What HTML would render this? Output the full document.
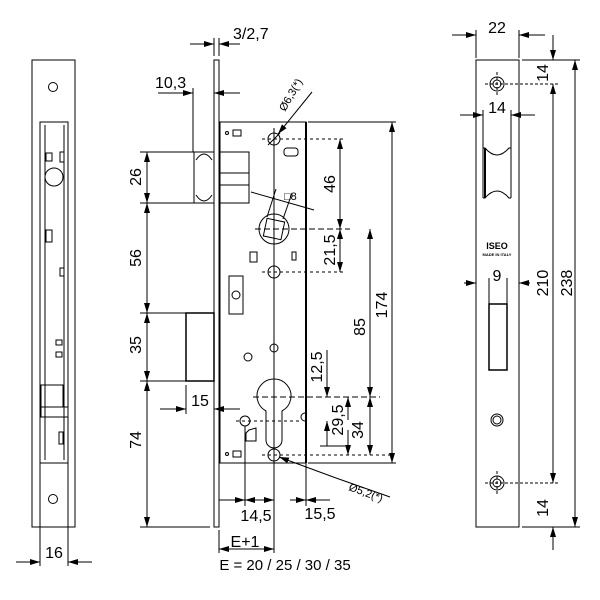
<!DOCTYPE html>
<html><head><style>body{margin:0;background:#fff}svg{display:block}text{font-family:"Liberation Sans",sans-serif;fill:#000}</style></head><body>
<svg width="600" height="600" viewBox="0 0 600 600" xmlns="http://www.w3.org/2000/svg">
<defs>
<marker id="a" viewBox="0 0 10 6" refX="10" refY="3" markerWidth="10" markerHeight="6" orient="auto-start-reverse" markerUnits="userSpaceOnUse"><path d="M0,0L10,3L0,6z"/></marker>
</defs>
<g fill="none" stroke="#000" stroke-width="1">
<rect x="32" y="60" width="43" height="467"/>
<circle cx="53" cy="87" r="4.5"/><circle cx="53" cy="499" r="4.5"/>
<rect x="40" y="122" width="28" height="341"/>
<line x1="40" y1="463" x2="40" y2="566"/><line x1="68" y1="463" x2="68" y2="566"/>
<line x1="45" y1="125" x2="45" y2="460"/><line x1="64" y1="125" x2="64" y2="460"/>
<circle cx="54" cy="177" r="9"/><rect x="46" y="153" width="6" height="8"/>
<rect x="46" y="230" width="6" height="12"/><rect x="60" y="152" width="4" height="10"/>
<rect x="60" y="268" width="4" height="8"/><rect x="56" y="340" width="6" height="5"/><rect x="56" y="352" width="6" height="5"/>
<rect x="41" y="385" width="22" height="22"/><rect x="41" y="407" width="27" height="10"/>
<rect x="59" y="432" width="4" height="12"/>
<line x1="16" y1="562" x2="40" y2="562" marker-end="url(#a)"/><line x1="92" y1="562" x2="68" y2="562" marker-end="url(#a)"/>
<rect x="214" y="60" width="5" height="467"/>
<line x1="214" y1="38" x2="214" y2="56"/><line x1="219" y1="38" x2="219" y2="56"/>
<line x1="190" y1="44" x2="214" y2="44" marker-end="url(#a)"/><line x1="240" y1="44" x2="219" y2="44" marker-end="url(#a)"/>
<line x1="193" y1="88" x2="193" y2="152"/>
<line x1="158" y1="93" x2="193" y2="93" marker-end="url(#a)"/><line x1="240" y1="93" x2="214" y2="93" marker-end="url(#a)"/>
<rect x="194" y="152" width="20" height="51"/>
<path d="M196,160 Q204,148 212,160 M196,195 Q204,207 212,195"/>
<rect x="220" y="152" width="29" height="51"/><line x1="220" y1="173" x2="249" y2="173"/><line x1="220" y1="185" x2="249" y2="185"/>
<rect x="220" y="122" width="86" height="341"/><line x1="306" y1="122" x2="306" y2="463" stroke-width="2"/>
<rect x="186" y="313" width="28" height="68" stroke-width="1.5"/>
<line x1="147" y1="152" x2="147" y2="527"/>
<line x1="140" y1="152" x2="194" y2="152"/><line x1="140" y1="203" x2="194" y2="203"/>
<line x1="140" y1="313" x2="186" y2="313"/><line x1="140" y1="381" x2="186" y2="381"/>
<line x1="140" y1="527" x2="210" y2="527"/>
<line x1="147" y1="185" x2="147" y2="152" marker-end="url(#a)"/><line x1="147" y1="185" x2="147" y2="203" marker-end="url(#a)"/>
<line x1="147" y1="230" x2="147" y2="203" marker-end="url(#a)"/><line x1="147" y1="290" x2="147" y2="313" marker-end="url(#a)"/>
<line x1="147" y1="340" x2="147" y2="313" marker-end="url(#a)"/><line x1="147" y1="360" x2="147" y2="381" marker-end="url(#a)"/>
<line x1="147" y1="410" x2="147" y2="381" marker-end="url(#a)"/><line x1="147" y1="500" x2="147" y2="527" marker-end="url(#a)"/>
<line x1="186" y1="385" x2="186" y2="414"/>
<line x1="160" y1="409" x2="186" y2="409" marker-end="url(#a)"/><line x1="240" y1="409" x2="214" y2="409" marker-end="url(#a)"/>
<line x1="274" y1="128" x2="274" y2="527"/>
<circle cx="274" cy="139" r="6"/><line x1="268" y1="145" x2="280" y2="133"/>
<line x1="262" y1="139" x2="345" y2="139" stroke-dasharray="3,3"/>
<rect x="233" y="130" width="8" height="6"/><circle cx="227" cy="133" r="1.5"/>
<rect x="284" y="148" width="14" height="8" rx="3"/>
<rect x="233" y="451" width="8" height="6"/><circle cx="227" cy="454" r="1.5"/>
<circle cx="274" cy="229" r="15"/><rect x="265" y="220" width="18" height="18" transform="rotate(12 274 229)"/>
<line x1="255" y1="229" x2="350" y2="229" stroke-dasharray="6,3"/>
<line x1="251" y1="192" x2="314" y2="210" /><line x1="267" y1="217" x2="276" y2="189"/><line x1="283" y1="219" x2="292" y2="193"/>
<circle cx="274" cy="272" r="6"/><line x1="262" y1="272" x2="345" y2="272" stroke-dasharray="3,3"/>
<rect x="250" y="252" width="7" height="10"/><rect x="292" y="252" width="4" height="8"/>
<rect x="229" y="276" width="14" height="38"/><circle cx="236" cy="295" r="4"/>
<circle cx="274" cy="348" r="4"/><circle cx="248" cy="357" r="4"/>
<path d="M266,411 A17,17 0 1 1 282,411 L282,440 A8,8 0 0 1 266,440 Z"/>
<line x1="253" y1="397" x2="380" y2="397" stroke-dasharray="6,3"/>
<circle cx="245" cy="421" r="5"/><line x1="236" y1="421" x2="300" y2="421" stroke-dasharray="3,3"/>
<path d="M249,430 L256,428 L256,441 L246,441 L246,433 Z"/>
<path d="M305,413 A4,4 0 0 0 305,421"/>
<circle cx="274" cy="455" r="6"/><line x1="262" y1="455" x2="390" y2="455" stroke-dasharray="3,3"/>
<line x1="308" y1="122" x2="396" y2="122"/><line x1="308" y1="463" x2="396" y2="463"/>
<line x1="392" y1="290" x2="392" y2="122" marker-end="url(#a)"/><line x1="392" y1="290" x2="392" y2="463" marker-end="url(#a)"/>
<line x1="340" y1="185" x2="340" y2="139" marker-end="url(#a)"/><line x1="340" y1="185" x2="340" y2="229" marker-end="url(#a)"/>
<line x1="340" y1="250" x2="340" y2="229" marker-end="url(#a)"/><line x1="340" y1="250" x2="340" y2="272" marker-end="url(#a)"/>
<line x1="370" y1="310" x2="370" y2="229" marker-end="url(#a)"/><line x1="370" y1="310" x2="370" y2="397" marker-end="url(#a)"/>
<line x1="370" y1="425" x2="370" y2="397" marker-end="url(#a)"/><line x1="370" y1="425" x2="370" y2="455" marker-end="url(#a)"/>
<line x1="327" y1="350" x2="327" y2="397" marker-end="url(#a)"/><line x1="327" y1="446" x2="327" y2="421" marker-end="url(#a)"/>
<line x1="348" y1="420" x2="348" y2="397" marker-end="url(#a)"/><line x1="348" y1="430" x2="348" y2="455" marker-end="url(#a)"/>
<line x1="320" y1="446" x2="345" y2="446"/>
<line x1="312" y1="92" x2="278" y2="134" marker-end="url(#a)"/>
<line x1="336" y1="478" x2="279" y2="457" marker-end="url(#a)"/><line x1="336" y1="478" x2="390" y2="497"/>
<line x1="245" y1="426" x2="245" y2="506"/><line x1="306" y1="463" x2="306" y2="506"/>
<line x1="219" y1="530" x2="219" y2="553"/><line x1="274" y1="527" x2="274" y2="553"/>
<line x1="219" y1="500" x2="245" y2="500"/><line x1="228" y1="500" x2="245" y2="500" marker-end="url(#a)"/>
<line x1="265" y1="500" x2="245" y2="500" marker-end="url(#a)"/><line x1="265" y1="500" x2="274" y2="500" marker-end="url(#a)"/>
<line x1="290" y1="500" x2="306" y2="500" marker-end="url(#a)"/><line x1="330" y1="500" x2="306" y2="500" marker-end="url(#a)"/>
<line x1="245" y1="549" x2="219" y2="549" marker-end="url(#a)"/><line x1="245" y1="549" x2="274" y2="549" marker-end="url(#a)"/>
<rect x="476" y="60" width="43" height="467"/>
<line x1="476" y1="30" x2="476" y2="58"/><line x1="519" y1="30" x2="519" y2="58"/>
<line x1="452" y1="35" x2="476" y2="35" marker-end="url(#a)"/><line x1="545" y1="35" x2="519" y2="35" marker-end="url(#a)"/>
<circle cx="497" cy="84" r="7"/><circle cx="497" cy="84" r="4"/><line x1="497" y1="72" x2="497" y2="96" stroke-dasharray="3,2"/><line x1="485" y1="84" x2="560" y2="84" stroke-dasharray="3,2"/>
<circle cx="497" cy="483" r="7"/><circle cx="497" cy="483" r="4"/><line x1="497" y1="471" x2="497" y2="495" stroke-dasharray="3,2"/><line x1="485" y1="483" x2="560" y2="483" stroke-dasharray="3,2"/>
<line x1="483" y1="110" x2="483" y2="198"/><line x1="511" y1="110" x2="511" y2="198"/>
<line x1="460" y1="115" x2="483" y2="115" marker-end="url(#a)"/><line x1="535" y1="115" x2="511" y2="115" marker-end="url(#a)"/>
<path d="M483,148 L485,148 Q497,162 509,148 L511,148 M483,198 L485,198 Q497,184 509,198 L511,198"/><line x1="485" y1="148" x2="485" y2="198" stroke-width="2"/>
<line x1="489" y1="278" x2="489" y2="304"/><line x1="507" y1="278" x2="507" y2="304"/>
<line x1="464" y1="283" x2="476" y2="283" marker-end="url(#a)"/><line x1="530" y1="283" x2="519" y2="283" marker-end="url(#a)"/>
<rect x="489" y="304" width="18" height="66" stroke-width="1.5"/>
<circle cx="497" cy="420" r="6"/><circle cx="497" cy="420" r="4"/>
<line x1="522" y1="60" x2="580" y2="60"/><line x1="522" y1="527" x2="580" y2="527"/>
<line x1="553" y1="35" x2="553" y2="60" marker-end="url(#a)"/><line x1="553" y1="110" x2="553" y2="84" marker-end="url(#a)"/>
<line x1="553" y1="110" x2="553" y2="459"/>
<line x1="553" y1="459" x2="553" y2="483" marker-end="url(#a)"/><line x1="553" y1="550" x2="553" y2="527" marker-end="url(#a)"/>
<line x1="575" y1="290" x2="575" y2="60" marker-end="url(#a)"/><line x1="575" y1="290" x2="575" y2="527" marker-end="url(#a)"/>
</g>
<g font-size="16">
<text x="233" y="39">3/2,7</text>
<text x="155" y="88">10,3</text>
<text x="141" y="177" transform="rotate(-90 141 177)" text-anchor="middle">26</text>
<text x="141" y="258" transform="rotate(-90 141 258)" text-anchor="middle">56</text>
<text x="141" y="345" transform="rotate(-90 141 345)" text-anchor="middle">35</text>
<text x="141" y="440" transform="rotate(-90 141 440)" text-anchor="middle">74</text>
<text x="200" y="406" text-anchor="middle">15</text>
<text x="54" y="558" text-anchor="middle">16</text>
<text x="335" y="184" transform="rotate(-90 335 184)" text-anchor="middle">46</text>
<text x="335" y="250" transform="rotate(-90 335 250)" text-anchor="middle">21,5</text>
<text x="387" y="305" transform="rotate(-90 387 305)" text-anchor="middle">174</text>
<text x="365" y="327" transform="rotate(-90 365 327)" text-anchor="middle">85</text>
<text x="322" y="367" transform="rotate(-90 322 367)" text-anchor="middle">12,5</text>
<text x="343" y="420" transform="rotate(-90 343 420)" text-anchor="middle">29,5</text>
<text x="363" y="430" transform="rotate(-90 363 430)" text-anchor="middle">34</text>
<text x="256" y="521" text-anchor="middle">14,5</text>
<text x="320" y="519" text-anchor="middle">15,5</text>
<text x="245" y="547" text-anchor="middle">E+1</text>
<text x="285" y="570" text-anchor="middle" font-size="15">E = 20 / 25 / 30 / 35</text>
<text x="497" y="33" text-anchor="middle">22</text>
<text x="497" y="113" text-anchor="middle">14</text>
<text x="497" y="281" text-anchor="middle">9</text>
<text x="548" y="73" transform="rotate(-90 548 73)" text-anchor="middle">14</text>
<text x="548" y="283" transform="rotate(-90 548 283)" text-anchor="middle">210</text>
<text x="572" y="283" transform="rotate(-90 572 283)" text-anchor="middle">238</text>
<text x="548" y="508" transform="rotate(-90 548 508)" text-anchor="middle">14</text>
</g>
<g font-size="11">
<text x="285" y="112" transform="rotate(-60 285 112)">Ø6,3(*)</text>
<text x="348" y="490" transform="rotate(20 348 490)">Ø5,2(*)</text>
<text x="284" y="200">□8</text>
</g>
<text x="497" y="249" font-size="9" font-weight="bold" text-anchor="middle">ISEO</text>
<text x="497" y="256" font-size="4" font-weight="bold" text-anchor="middle">MADE IN ITALY</text>
</svg>
</body></html>
